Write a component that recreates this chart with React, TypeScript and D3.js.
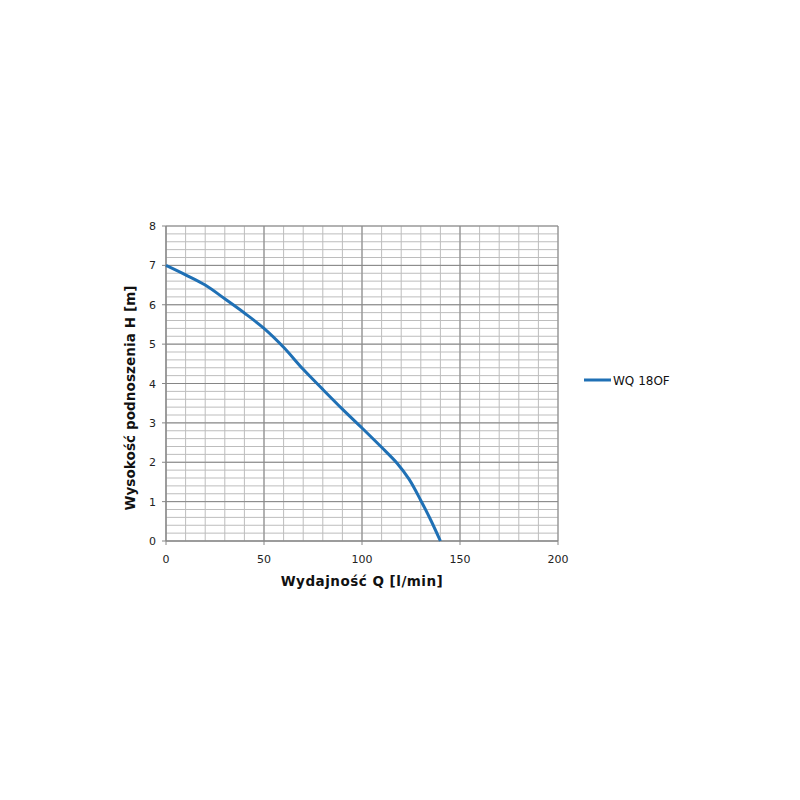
import React from "react";
import * as d3 from "d3";

const flowQ = [0, 10, 20, 30, 40, 50, 60, 70, 80, 90, 100, 110, 118, 124, 130, 135, 140];
const headH = [7.0, 6.76, 6.5, 6.15, 5.79, 5.4, 4.92, 4.36, 3.85, 3.35, 2.87, 2.38, 1.97, 1.57, 1.03, 0.54, 0.0];
const xTicks = [0, 50, 100, 150, 200];
const yTicks = [0, 1, 2, 3, 4, 5, 6, 7, 8];
const seriesName = "WQ 18OF";
const xTitle = "Wydajność Q [l/min]";
const yTitle = "Wysokość podnoszenia H [m]";

export default function App() {
  const left = 166, right = 558, top = 226, bottom = 541;
  const x = d3.scaleLinear().domain([0, 200]).range([left, right]);
  const y = d3.scaleLinear().domain([0, 8]).range([bottom, top]);
  const minorX = d3.range(0, 201, 10);
  const minorY = d3.range(0, 8.001, 0.2);
  const line = d3.line<number>().x((_, i) => x(flowQ[i])).y((d) => y(d)).curve(d3.curveCatmullRom.alpha(0.5));
  const blue = "#1f70b5";
  return (
    <svg width={800} height={800} style={{ position: "absolute", left: 0, top: 0, background: "#fff" }}>
      <rect x={0} y={0} width={800} height={800} fill="#fff" />
      {minorX.map((v) => (
        <line key={"mx" + v} x1={x(v)} x2={x(v)} y1={top} y2={bottom} stroke="#bdbdbd" strokeWidth={1} />
      ))}
      {minorY.map((v, i) => (
        <line key={"my" + i} x1={left} x2={right} y1={y(v)} y2={y(v)} stroke="#bdbdbd" strokeWidth={1} />
      ))}
      {xTicks.map((v) => (
        <line key={"Mx" + v} x1={x(v)} x2={x(v)} y1={top} y2={bottom + 4} stroke="#868686" strokeWidth={1} />
      ))}
      {yTicks.map((v) => (
        <line key={"My" + v} x1={left - 4} x2={right} y1={y(v)} y2={y(v)} stroke="#868686" strokeWidth={1} />
      ))}
      <line x1={left} x2={left} y1={top} y2={bottom} stroke="#868686" />
      <line x1={left} x2={right} y1={bottom} y2={bottom} stroke="#868686" />
      {yTicks.map((v) => (
        <text key={"yt" + v} x={left - 10} y={y(v) + 4} textAnchor="end" fontFamily="DejaVu Sans, sans-serif" fontSize={11} fill="#222">{v}</text>
      ))}
      {xTicks.map((v) => (
        <text key={"xt" + v} x={x(v)} y={bottom + 22} textAnchor="middle" fontFamily="DejaVu Sans, sans-serif" fontSize={11} fill="#222">{v}</text>
      ))}
      <path d={line(headH) || ""} fill="none" stroke={blue} strokeWidth={3} strokeLinejoin="round" />
      <text x={362} y={586} textAnchor="middle" fontFamily="DejaVu Sans, sans-serif" fontWeight="bold" fontSize={13.5} fill="#111" letterSpacing={0.5}>{xTitle}</text>
      <text transform={`translate(135,398) rotate(-90)`} textAnchor="middle" fontFamily="DejaVu Sans, sans-serif" fontWeight="bold" fontSize={13.5} fill="#111" letterSpacing={0.1}>{yTitle}</text>
      <line x1={584} x2={611} y1={380} y2={380} stroke={blue} strokeWidth={3} />
      <text x={613} y={384.5} fontFamily="DejaVu Sans, sans-serif" fontSize={12} fill="#111">{seriesName}</text>
    </svg>
  );
}
